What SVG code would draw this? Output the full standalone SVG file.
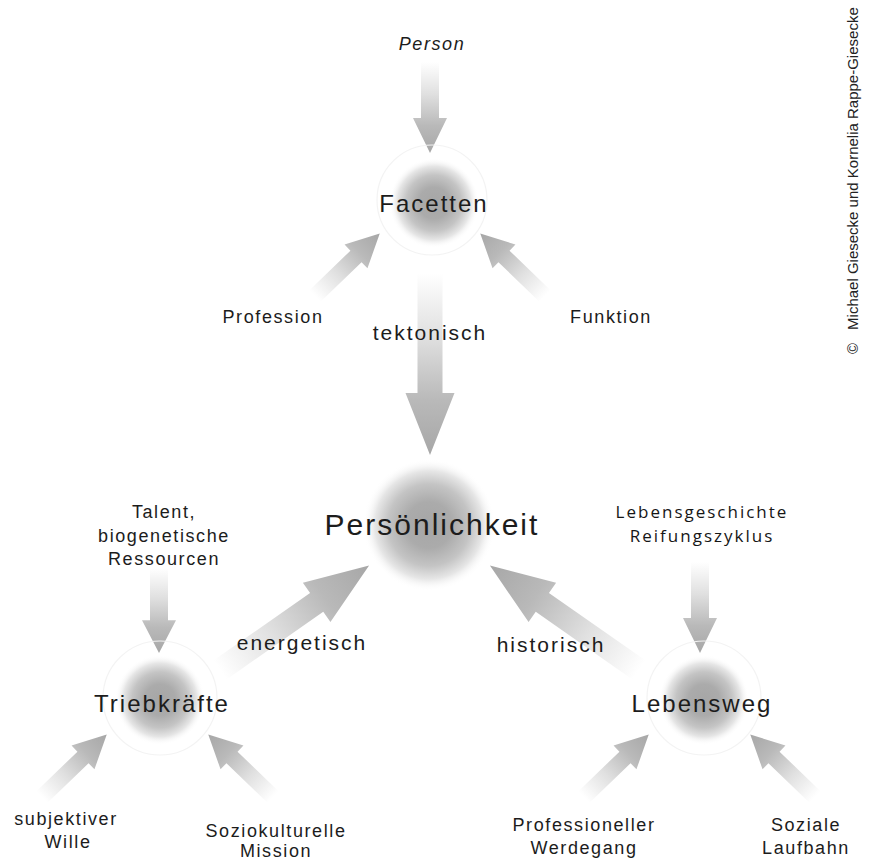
<svg xmlns="http://www.w3.org/2000/svg" width="875" height="860" viewBox="0 0 875 860">
  <defs>
    <linearGradient id="arrowGrad" x1="0" y1="0" x2="1" y2="0">
      <stop offset="0" stop-color="#ffffff"/>
      <stop offset="0.35" stop-color="#e0e0e0"/>
      <stop offset="0.7" stop-color="#b9b9b9"/>
      <stop offset="1" stop-color="#a7a7a7"/>
    </linearGradient>
    <radialGradient id="blob">
      <stop offset="0" stop-color="#a6a6a6"/>
      <stop offset="0.35" stop-color="#ababab"/>
      <stop offset="0.62" stop-color="#c4c4c4"/>
      <stop offset="0.82" stop-color="#e6e6e6"/>
      <stop offset="1" stop-color="#ffffff" stop-opacity="0"/>
    </radialGradient>
    <path id="arrSmall" d="M0,-8 L57,-8 L57,-16.5 L90,0 L57,16.5 L57,8 L0,8 Z"/>
    <path id="arrVert" d="M0,-9 L56,-9 L56,-17 L91,0 L56,17 L56,9 L0,9 Z"/>
    <path id="arrBig" d="M0,-11.5 L118,-11.5 L118,-24 L182,0 L118,24 L118,11.5 L0,11.5 Z"/>
  </defs>
  <style>
    .arrow { fill: url(#arrowGrad); }
    .blob { fill: url(#blob); }
    .ring { fill: none; stroke: #f3f3f3; stroke-width: 1.2; }
    text { font-family: "Liberation Sans", Arial, sans-serif; fill: #1c1c1c; text-anchor: middle; }
    .main { font-size: 30px; letter-spacing: 2px; }
    .node { font-size: 24px; letter-spacing: 2px; }
    .edge { font-size: 21px; letter-spacing: 2px; }
    .lbl { font-size: 18px; letter-spacing: 1.6px; }
    .hum { font-family: "Open Sans", "Noto Sans", sans-serif; font-size: 17px; letter-spacing: 2px; fill: #161616; }
    .copy { font-size: 15px; text-anchor: start; fill: #222; letter-spacing: 0; }
  </style>
  <rect width="875" height="860" fill="#ffffff"/>

  <g id="connectors">
    <use href="#arrVert" class="arrow" transform="translate(430,62) rotate(90)"/>
    <use href="#arrSmall" class="arrow" transform="translate(315,296) rotate(-44)"/>
    <use href="#arrSmall" class="arrow" transform="translate(545,296) rotate(-136)"/>
    <path class="arrow" d="M0,-12.5 L120,-12.5 L120,-24.5 L182,0 L120,24.5 L120,12.5 L0,12.5 Z" transform="translate(430,273) rotate(90)"/>
    <use href="#arrVert" class="arrow" transform="translate(159,568) rotate(90) scale(0.934,1)"/>
    <use href="#arrVert" class="arrow" transform="translate(700,562) rotate(90)"/>
    <use href="#arrBig" class="arrow" transform="translate(220,670) rotate(-35)"/>
    <use href="#arrBig" class="arrow" transform="translate(639,670) rotate(-145)"/>
    <use href="#arrSmall" class="arrow" transform="translate(42,797) rotate(-44)"/>
    <use href="#arrSmall" class="arrow" transform="translate(273,797) rotate(-136)"/>
    <use href="#arrSmall" class="arrow" transform="translate(584,797) rotate(-44)"/>
    <use href="#arrSmall" class="arrow" transform="translate(815,797) rotate(-136)"/>
    <text class="edge" x="430" y="340">tektonisch</text>
    <text class="edge" x="302" y="650">energetisch</text>
    <text class="edge" x="551" y="652">historisch</text>
  </g>

  <g id="node-facetten">
    <circle class="ring" cx="432" cy="200" r="55"/>
    <circle class="blob" cx="434" cy="203" r="45"/>
    <text class="node" x="434" y="212">Facetten</text>
  </g>
  <g id="node-persoenlichkeit">
    <circle class="blob" cx="429" cy="525" r="66"/>
    <text class="main" x="432" y="535">Persönlichkeit</text>
  </g>
  <g id="node-triebkraefte">
    <circle class="ring" cx="160" cy="698" r="57"/>
    <circle class="blob" cx="160" cy="700" r="45"/>
    <text class="node" x="162" y="712">Triebkräfte</text>
  </g>
  <g id="node-lebensweg">
    <circle class="ring" cx="704" cy="698" r="57"/>
    <circle class="blob" cx="704" cy="700" r="45"/>
    <text class="node" x="702" y="712">Lebensweg</text>
  </g>

  <g id="node-person">
    <text class="lbl" x="432" y="50" font-style="italic" font-size="19">Person</text>
  </g>
  <g id="node-profession">
    <text class="lbl" x="273" y="323">Profession</text>
  </g>
  <g id="node-funktion">
    <text class="lbl" x="611" y="323">Funktion</text>
  </g>
  <g id="node-talent">
    <text class="lbl" x="164" y="518">Talent,</text>
    <text class="lbl" x="164" y="542">biogenetische</text>
    <text class="lbl" x="164" y="565">Ressourcen</text>
  </g>
  <g id="node-lebensgeschichte">
    <text class="hum" x="702" y="518">Lebensgeschichte</text>
    <text class="hum" x="702" y="542">Reifungszyklus</text>
  </g>
  <g id="node-subjektiver-wille">
    <text class="lbl" x="66" y="825">subjektiver</text>
    <text class="lbl" x="68" y="848">Wille</text>
  </g>
  <g id="node-soziokulturelle-mission">
    <text class="lbl" x="276" y="837">Soziokulturelle</text>
    <text class="lbl" x="276" y="857">Mission</text>
  </g>
  <g id="node-professioneller-werdegang">
    <text class="lbl" x="584" y="831">Professioneller</text>
    <text class="lbl" x="584" y="854">Werdegang</text>
  </g>
  <g id="node-soziale-laufbahn">
    <text class="lbl" x="806" y="831">Soziale</text>
    <text class="lbl" x="806" y="854">Laufbahn</text>
  </g>

  <g id="copyright">
    <text class="copy" transform="translate(858,354) rotate(-90)">©<tspan dx="13">Michael Giesecke und Kornelia Rappe-Giesecke</tspan></text>
  </g>
</svg>
